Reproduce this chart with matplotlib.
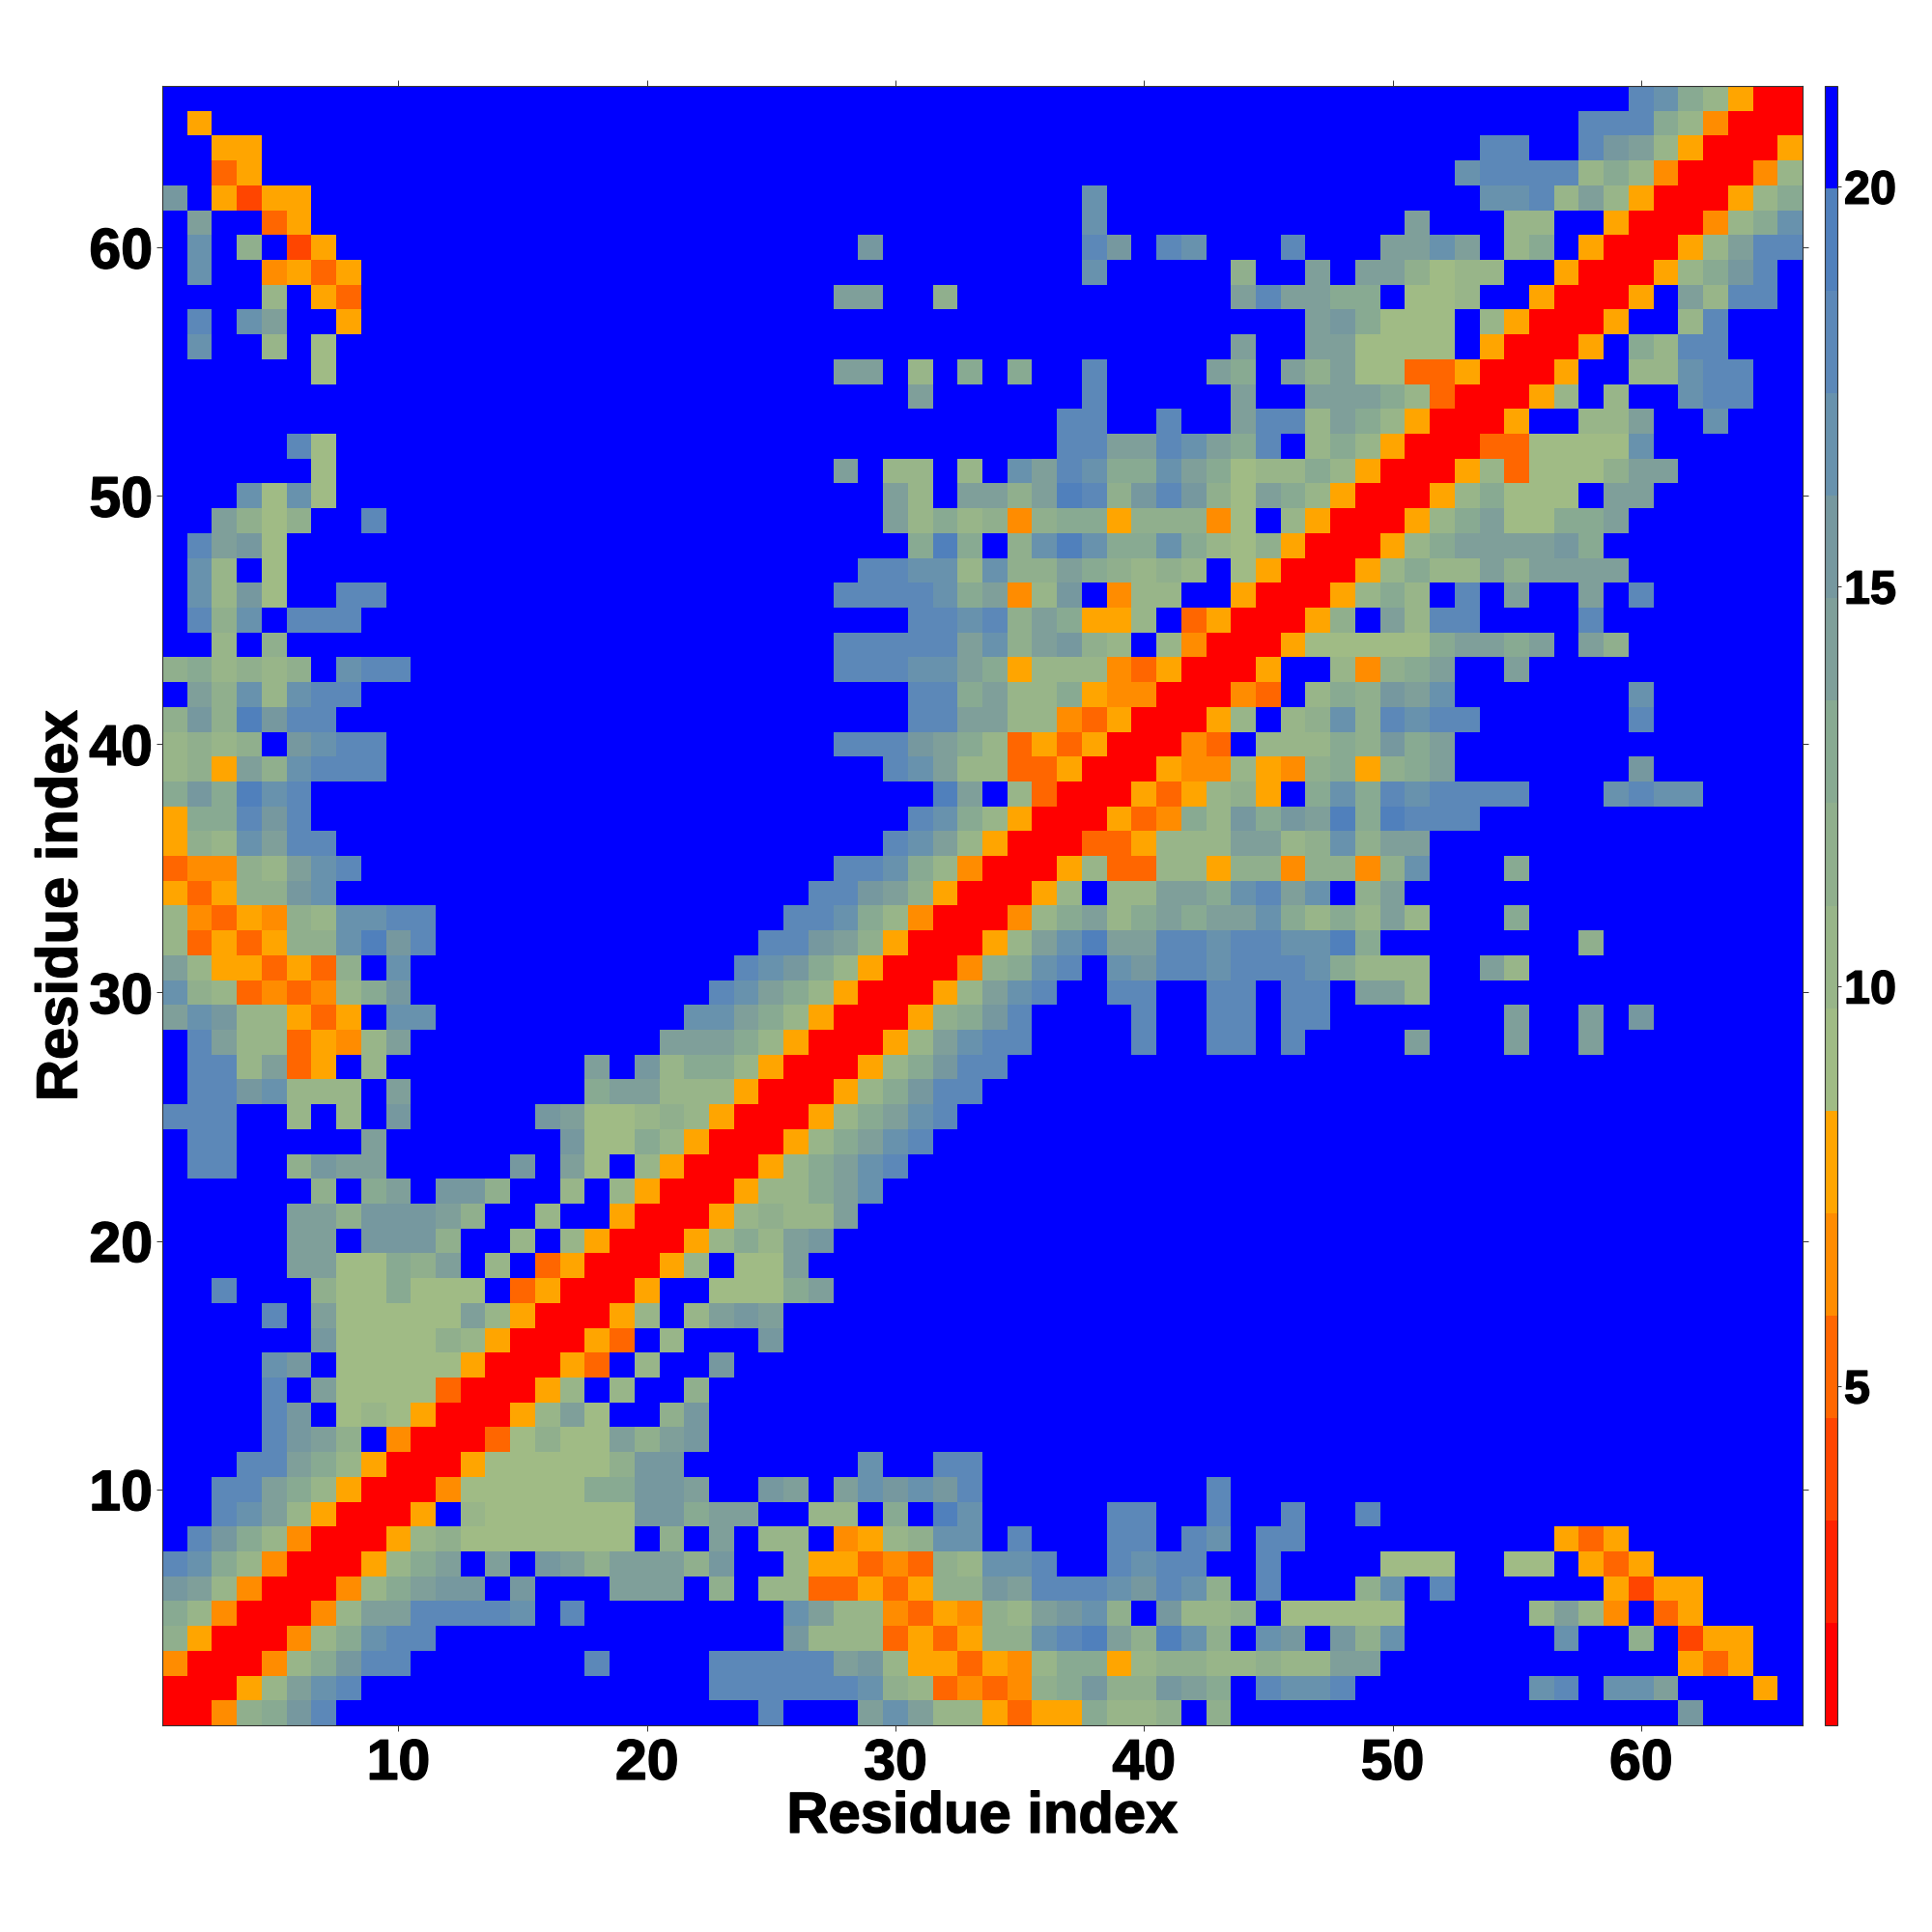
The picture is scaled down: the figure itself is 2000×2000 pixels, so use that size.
import numpy as np
import matplotlib
matplotlib.use("Agg")
import matplotlib.pyplot as plt
import matplotlib.patheffects as pe
from matplotlib.colors import ListedColormap, BoundaryNorm

plt.rcParams['font.family'] = ['Liberation Sans', 'DejaVu Sans']
plt.rcParams['font.weight'] = 'bold'

N = 66
VMIN, VMAX = 0.76, 21.26
palette = ['#ff0000', '#ff2200', '#ff4500', '#ff6600', '#ff8c00', '#ffa500',
           '#a0bb85', '#98b589', '#90af8d', '#88aa92', '#7f9f9a', '#76989f',
           '#6892ad', '#5c88b8', '#5080bc', '#0000ff']
tick_values = [10, 20, 30, 40, 50, 60]
cbar_ticks = [5, 10, 15, 20]

# Distance classes per residue pair, one hex digit each (F = beyond the scale).
# row -> [(first column, codes), ...]; the map is symmetric, so only one side is listed.
row_01 = [(1, "00489BD" + "F"*10), (17, "FFFFFFFFDFFFACA77"), (34, "5355977" + "8F8" + "F"*7), (51, "F"*11 + "BFFFF")]
row_02 = [(1, "00057ACD" + "F"*9), (17, "FFFFFFDDDDDDC8734"), (34, "3489B88BA9FDCCDFF"), (51, "FFFFFCDFCCAFFF5F")]
row_03 = [(1, "4000479BDD" + "F"*7), (17, "FDFFFFDDDDDAB7553"), (34, "547995788778" + "77AAF"), (51, "F"*11 + "535FF")]
row_04 = [(1, "95000479CDD" + "F"*6), (17, "F"*9 + "B7773535"), (34, "88CDEA8EC8FCBFB8C"), (51, "FFFFFFCFF8F255FF")]
row_05 = [(1, "97400047AADDDDCFD"), (17, "D" + "F"*8 + "CA774354"), (34, "87ABC8FB778F66666"), (51, "FFFFF7A74F35FFFF")]
row_06 = [(1, "BA74000479ABBFBFF"), (17, "FFAAAF8F773353588"), (34, "BADDDCBDC8FDFFF8C"), (51, "FDFFFFFF5255FFFF")]
row_07 = [(1, "DB974000579AFAFBB"), (17, "A8AAA8BFF75534387"), (34, "CCDFFDCDDFFDFFFF6"), (51, "66FF66F535FFFFFF")]
row_08 = [(1, "FDC974000578" + "66666"), (17, "666F8FAF77F4578CC"), (34, "FDFFFDDFDCFDDFFFF"), (51, "F"*6 + "535" + "F"*7)]
row_09 = [(1, "FFDCB750005F76666"), (17, "666BB9AAFF77F9FEC"), (34, "FFFFFDDFFDFFDFFDF")]
row_10 = [(1, "FFDDB9750004" + "66666"), (17, "699BBAFFBAFACBCBD"), (34, "F"*9 + "D" + "F"*7)]
row_11 = [(1, "FFFDDBA750005" + "6666"), (17, "668BBFFFFFFFCFFDD")]
row_12 = [(1, "FFFFDCA9F40003686"), (17, "66A8AB" + "F"*11)]
row_13 = [(1, "FFFFDCF7875000" + "57A"), (17, "A6FF8B" + "F"*11)]
row_14 = [(14, "0057F7FF8")]
row_15 = [(14, "00053F7FFB")]
row_16 = [(14, "500053F7FFFB")]
row_17 = [(14, "7500057F7ABA")]
row_18 = [(14, "F350005FF6669A")]
row_19 = [(14, "7F3500057F66A")]
row_20 = [(14, "F7F750005797AB")]
row_21 = [(14, "FF7FF500057877A")]
row_22 = [(14, "9FF7F750005779AC")]
row_23 = [(14, "FBFB7F750005" + "79ACD")]
row_24 = [(14, "FFFB66A75000579ACD")]
row_25 = [(14, "FFA966687500" + "0579ACD")]
row_26 = [(14, "FFFFAAA7775000579BDD")]
row_27 = [(27, "00579BDD")]
row_28 = [(27, "00057ACDDFFFFDFFDDFD"), (47, "FFFFAFFFAFFA")]
row_29 = [(27, "5000589BDFFFFDFFDDFD"), (47, "D" + "F"*7 + "AFFAFB")]
row_30 = [(27, "7500057ACDFFDDFFDDFD"), (47, "DFAA7")]
row_31 = [(27, "975000489CDFCBDDCDDD"), (47, "C9777FFA7")]
row_32 = [(27, "C99500057ACEAADDCDDC"), (47, "CE9" + "F"*8 + "8")]
row_33 = [(27, "DB974000479A79A9AAC9"), (47, "797A7FFF9")]
row_34 = [(27, "DDCB95000" + "57F77AA9CDA"), (47, "CF8A")]
row_35 = [(27, "FDDC974000573377588" + "4"), (47, "8848CFFF9")]
row_36 = [(27, "FFFDCA75000335777AA7"), (47, "8C8AA")]
row_37 = [(27, "FFFFDC975000534" + "97B9B"), (47, "AE9EDDD")]
row_38 = [(27, "FFFFFDAF73000535785F"), (47, "9C9DCDDDDFFFCDCC")]
row_39 = [(27, "FFFDCA77335000544754"), (47, "89589A" + "F"*7 + "B")]
row_40 = [(27, "FDDDBA9735350004" + "3F77"), (47, "798B9A")]
row_41 = [(41, "0057F78C8DCDD" + "F"*6 + "D")]
row_42 = [(41, "00043F798BAC" + "F"*7 + "C")]
row_43 = [(41, "50005FF7489AFFA")]
row_44 = [(41, "7400056666" + "69AA9AFA8")]
row_45 = [(41, "F350005" + "8FA7DDFFFFD")]
row_46 = [(41, "7FF50005797FDFAFFAFD")]
row_47 = [(41, "87F7500057977A8AAAA")]
row_48 = [(41, "B97785000579AAAAB9")]
row_49 = [(41, "9947F75000579A6699A")]
row_50 = [(41, "DA97AA85000579666FAA")]
row_51 = [(41, "CA9777975000573" + "6668AA")]
row_52 = [(41, "DCA9EF7A7500033" + "6666C")]
row_53 = [(41, "CFFADD7A9750005FF77AFFCFFF")]
row_54 = [(54, "0057F7FFCDDFF")]
row_55 = [(54, "0005FF77CDDFF")]
row_56 = [(54, "50005F97DDFFF")]
row_57 = [(54, "750005FF7DFFF")]
row_58 = [(54, "FF50005FA7DDF")]
row_59 = [(54, "7FF5000579BDF")]
row_60 = [(54, "F79F500057ADD")]
row_61 = [(54, "F77FF5000479C")]
row_62 = [(54, "CCD7A75000579")]
row_63 = [(54, "DDDD797400047")]
row_64 = [(54, "DDFFDCA750005")]
row_65 = [(54, "FFFFDDD974000")]
row_66 = [(54, "FFFFFFDB97500")]

all_rows = [row_01, row_02, row_03, row_04, row_05, row_06, row_07, row_08, row_09, row_10, row_11,
            row_12, row_13, row_14, row_15, row_16, row_17, row_18, row_19, row_20, row_21, row_22,
            row_23, row_24, row_25, row_26, row_27, row_28, row_29, row_30, row_31, row_32, row_33,
            row_34, row_35, row_36, row_37, row_38, row_39, row_40, row_41, row_42, row_43, row_44,
            row_45, row_46, row_47, row_48, row_49, row_50, row_51, row_52, row_53, row_54, row_55,
            row_56, row_57, row_58, row_59, row_60, row_61, row_62, row_63, row_64, row_65, row_66]

levels = np.full((N, N), 15, dtype=int)
for r, segs in enumerate(all_rows):
    for start, codes in segs:
        for k, ch in enumerate(codes):
            c = start - 1 + k
            if c >= r:
                levels[r, c] = int(ch, 16)
                levels[c, r] = int(ch, 16)

step = (VMAX - VMIN) / len(palette)
bounds = VMIN + step * np.arange(len(palette) + 1)
values = VMIN + (levels + 0.5) * step
cmap = ListedColormap(palette)
norm = BoundaryNorm(bounds, cmap.N)

W = H = 2000
heavy = [pe.withStroke(linewidth=1.0, foreground='black')]
fig = plt.figure(figsize=(20, 20), dpi=100, facecolor='white')
ax = fig.add_axes([168/W, 1 - 1786/H, (1866-168)/W, (1786-89)/H])
edges = np.arange(N + 1) + 0.5
mesh = ax.pcolormesh(edges, edges, values, cmap=cmap, norm=norm, antialiased=False, linewidth=0)
ax.set_xlim(0.5, 66.5)
ax.set_ylim(0.5, 66.5)
ax.set_xticks(tick_values)
ax.set_yticks(tick_values)
ax.tick_params(direction='out', length=4.3, width=0.7, color='#333333', top=True, right=True,
               labelsize=42.5, pad=3)
ax.tick_params(axis='x', pad=5)
for lab in ax.get_xticklabels() + ax.get_yticklabels():
    lab.set_fontweight('bold')
    lab.set_path_effects(heavy)
for s in ax.spines.values():
    s.set_linewidth(0.8)
    s.set_color('#333333')
ax.set_xlabel('Residue index', fontsize=43, fontweight='bold', labelpad=0, path_effects=heavy)
ax.set_ylabel('Residue index', fontsize=43, fontweight='bold', labelpad=0, path_effects=heavy)
ax.xaxis.set_label_coords(0.5, 1 - (1873 + 24 - 89) / (1786 - 89), transform=ax.transAxes)
ax.xaxis.label.set_va('baseline')
ax.yaxis.set_label_coords((64 - 168) / (1866 - 168), 0.5, transform=ax.transAxes)
ax.yaxis.label.set_va('center')

cax = fig.add_axes([1889/W, 1 - 1786/H, (1902-1889)/W, (1786-89)/H])
cb = fig.colorbar(mesh, cax=cax, ticks=cbar_ticks, spacing='proportional')
cb.solids.set_antialiased(False)
cb.ax.set_yticklabels([str(t) for t in cbar_ticks])
cb.ax.minorticks_off()
cb.ax.tick_params(direction='out', length=3, width=0.7, color='#333333', labelsize=35, pad=2)
for lab in cb.ax.get_yticklabels():
    lab.set_fontweight('bold')
    lab.set_path_effects(heavy)
cb.outline.set_linewidth(0.8)
cb.outline.set_edgecolor('#333333')

fig.savefig('out.png', dpi=100, facecolor='white')
